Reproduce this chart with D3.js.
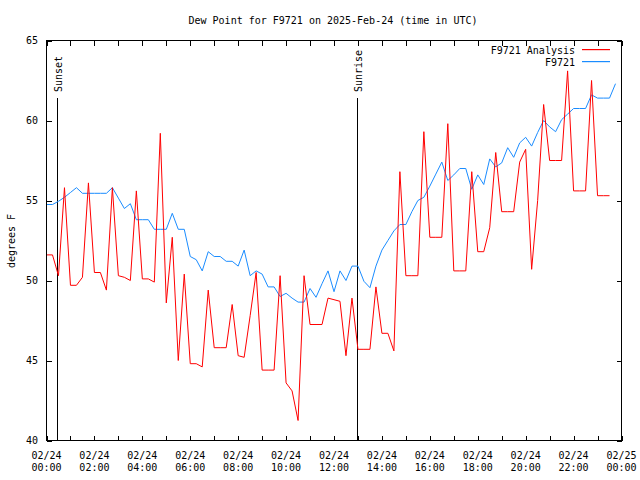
<!DOCTYPE html>
<html>
<head>
<meta charset="utf-8">
<script src="https://cdn.jsdelivr.net/npm/d3@7"></script>
<style>
  html, body { margin: 0; padding: 0; background: #fff; }
  svg { display: block; }
  text { font-family: "DejaVu Sans Mono", monospace; font-size: 10px; fill: #000; }
</style>
</head>
<body>
<svg id="chart" width="640" height="480"></svg>
<script>
// ---- data ----
const title = "Dew Point for F9721 on 2025-Feb-24 (time in UTC)";
const yLabel = "degrees F";
const seriesNames = ["F9721 Analysis", "F9721"];
const seriesColors = ["#ff0000", "#1a8cff"];

const times = [
  "00:00","00:15","00:30","00:45","01:00","01:15","01:30","01:45",
  "02:00","02:15","02:30","02:45","03:00","03:15","03:30","03:45",
  "04:00","04:15","04:30","04:45","05:00","05:15","05:30","05:45",
  "06:00","06:15","06:30","06:45","07:00","07:15","07:30","07:45",
  "08:00","08:15","08:30","08:45","09:00","09:15","09:30","09:45",
  "10:00","10:15","10:30","10:45","11:00","11:15","11:30","11:45",
  "12:00","12:15","12:30","12:45","13:00","13:15","13:30","13:45",
  "14:00","14:15","14:30","14:45","15:00","15:15","15:30","15:45",
  "16:00","16:15","16:30","16:45","17:00","17:15","17:30","17:45",
  "18:00","18:15","18:30","18:45","19:00","19:15","19:30","19:45",
  "20:00","20:15","20:30","20:45","21:00","21:15","21:30","21:45",
  "22:00","22:15","22:30","22:45","23:00","23:15","23:30","23:45"
];

const analysis = [
  51.6, 51.6, 50.3, 55.8, 49.7, 49.7, 50.2, 56.1,
  50.5, 50.5, 49.4, 55.8, 50.3, 50.2, 50.0, 55.6,
  50.1, 50.1, 49.9, 59.2, 48.6, 52.7, 45.0, 50.4,
  44.8, 44.8, 44.6, 49.4, 45.8, 45.8, 45.8, 48.5,
  45.3, 45.2, 47.8, 50.5, 44.4, 44.4, 44.4, 50.3,
  43.6, 43.1, 41.25, 50.3, 47.25, 47.25, 47.25, 48.9,
  48.8, 48.7, 45.3, 48.9, 45.7, 45.7, 45.7, 49.6,
  46.7, 46.7, 45.6, 56.8, 50.3, 50.3, 50.3, 59.3,
  52.7, 52.7, 52.7, 59.8, 50.6, 50.6, 50.6, 56.8,
  51.8, 51.8, 53.3, 58.0, 54.3, 54.3, 54.3, 57.4,
  58.2, 50.7, 55.0, 61.0, 57.5, 57.5, 57.5, 63.1,
  55.6, 55.6, 55.6, 62.5, 55.3, 55.3, 55.3
];

const station = [
  54.75, 54.75, 54.95, 55.2, 55.5, 55.8, 55.45, 55.45,
  55.45, 55.45, 55.45, 55.8, 55.15, 54.5, 54.8, 53.8,
  53.8, 53.8, 53.2, 53.2, 53.2, 54.2, 53.2, 53.2,
  51.5, 51.3, 50.6, 51.8, 51.5, 51.5, 51.2, 51.2,
  50.9, 51.9, 50.3, 50.6, 50.4, 49.6, 49.6, 49.0,
  49.2, 48.9, 48.65, 48.65, 49.5, 48.95, 49.8, 50.6,
  49.3, 50.6, 50.0, 50.9, 50.9, 49.95, 49.55, 50.9,
  51.9, 52.5, 53.1, 53.5, 53.5, 54.3, 55.0, 55.2,
  55.9, 56.65, 57.4, 56.25, 56.6, 57.0, 57.0, 55.7,
  56.6, 56.0, 57.6, 57.1, 57.35, 58.3, 57.7, 58.6,
  58.95, 58.4, 59.25, 60.0, 59.6, 59.3, 60.05, 60.4,
  60.75, 60.75, 60.75, 61.6, 61.4, 61.4, 61.4, 62.3
];

const yTicks = [40, 45, 50, 55, 60, 65];
const xTickTimes = ["2025-02-24T00:00Z","2025-02-24T02:00Z","2025-02-24T04:00Z","2025-02-24T06:00Z",
  "2025-02-24T08:00Z","2025-02-24T10:00Z","2025-02-24T12:00Z","2025-02-24T14:00Z",
  "2025-02-24T16:00Z","2025-02-24T18:00Z","2025-02-24T20:00Z","2025-02-24T22:00Z","2025-02-25T00:00Z"];
const xTickDates = ["02/24","02/24","02/24","02/24","02/24","02/24","02/24","02/24","02/24","02/24","02/24","02/24","02/25"];
const xTickClock = ["00:00","02:00","04:00","06:00","08:00","10:00","12:00","14:00","16:00","18:00","20:00","22:00","00:00"];

const markers = [
  { label: "Sunset", time: "2025-02-24T00:27Z" },
  { label: "Sunrise", time: "2025-02-24T12:59Z" }
];

// ---- drawing ----
const svg = d3.select("#chart");
const L = 46.5, R = 621.5, T = 40.5, B = 440.5;

const parseT = t => new Date("2025-02-24T" + t + ":00Z");
const x = d3.scaleUtc()
  .domain([new Date("2025-02-24T00:00Z"), new Date("2025-02-25T00:00Z")])
  .range([L, R]);
const y = d3.scaleLinear().domain([40, 65]).range([B, T]);

// Title
svg.append("text").attr("x", 333).attr("y", 24).attr("text-anchor", "middle").text(title);

// y label
svg.append("text").attr("transform", "translate(15,241) rotate(-90)")
  .attr("text-anchor", "middle").text(yLabel);

// Axes via d3
const hourTicks = d3.utcHour.every(1).range(new Date("2025-02-24T00:00Z"), new Date("2025-02-25T00:00:01Z"));

const bottomAxis = d3.axisBottom(x).tickValues(hourTicks).tickSize(-5).tickFormat("");
const topAxis = d3.axisTop(x).tickValues(hourTicks).tickSize(-5).tickFormat("");
const leftAxis = d3.axisLeft(y).tickValues(yTicks).tickSize(-5).tickFormat("");
const rightAxis = d3.axisRight(y).tickValues(yTicks).tickSize(-5).tickFormat("");

function styleAxis(g) {
  g.select(".domain").remove();
  g.selectAll("line").attr("stroke", "#000").attr("shape-rendering", "crispEdges");
}
svg.append("g").attr("transform", `translate(0,${B})`).call(bottomAxis).call(styleAxis);
svg.append("g").attr("transform", `translate(0,${T})`).call(topAxis).call(styleAxis);
svg.append("g").attr("transform", `translate(${L},0)`).call(leftAxis).call(styleAxis);
svg.append("g").attr("transform", `translate(${R},0)`).call(rightAxis).call(styleAxis);

// y tick labels
svg.append("g").selectAll("text").data(yTicks).join("text")
  .attr("x", 38).attr("y", d => y(d) + 3.5).attr("text-anchor", "end").text(d => d);

// x tick labels
const xl = svg.append("g");
xTickTimes.forEach((t, i) => {
  const px = x(new Date(t));
  xl.append("text").attr("x", px).attr("y", 459).attr("text-anchor", "middle").text(xTickDates[i]);
  xl.append("text").attr("x", px).attr("y", 471).attr("text-anchor", "middle").text(xTickClock[i]);
});

// Sunset/Sunrise markers
markers.forEach(m => {
  const px = Math.round(x(new Date(m.time)) - 0.5) + 0.5;
  svg.append("line").attr("x1", px).attr("x2", px).attr("y1", 98).attr("y2", B)
    .attr("stroke", "#000").attr("shape-rendering", "crispEdges");
  svg.append("text").attr("transform", `translate(${px + 4},92) rotate(-90)`)
    .attr("text-anchor", "start").text(m.label);
});

// Series lines
const line = d3.line().x(d => x(d[0])).y(d => y(d[1]));
const redData = analysis.map((v, i) => [parseT(times[i]), v]);
const blueData = station.map((v, i) => [parseT(times[i]), v]);

svg.append("path").datum(blueData).attr("d", line)
  .style("fill", "none").style("stroke", seriesColors[1]).style("stroke-width", "1px");
svg.append("path").datum(redData).attr("d", line)
  .style("fill", "none").style("stroke", seriesColors[0]).style("stroke-width", "1px");

// Border
svg.append("rect").attr("x", L).attr("y", T).attr("width", R - L).attr("height", B - T)
  .attr("fill", "none").attr("stroke", "#000").attr("shape-rendering", "crispEdges");

// Legend
const legendRows = [49, 61];
const legend = svg.append("g");
legend.selectAll("text").data(seriesNames).join("text")
  .attr("x", 575).attr("y", (d, i) => legendRows[i] + 4.5).attr("text-anchor", "end").text(d => d);
legend.selectAll("rect").data(seriesColors).join("rect")
  .attr("x", 582).attr("y", (d, i) => legendRows[i]).attr("width", 28).attr("height", 1.2)
  .style("fill", d => d).style("stroke", "none");
</script>
</body>
</html>
